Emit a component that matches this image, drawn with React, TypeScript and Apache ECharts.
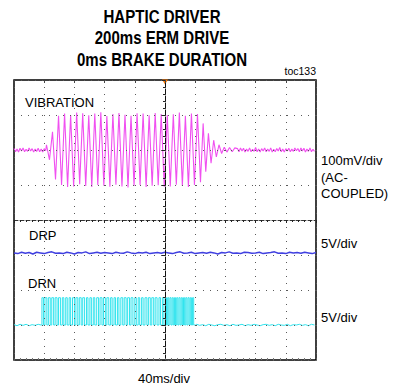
import React, { useEffect, useRef } from "react";
import * as echarts from "echarts";

// ---- data (time in ms, 40 ms/div; vibration in mV; DRP/DRN in V) ----
const titleLines = ["HAPTIC DRIVER", "200ms ERM DRIVE", "0ms BRAKE DURATION"];
const timeMin = -200;
const timeMax = 200;
const timeDiv = 40;

const vibPreStart = -200;
const vibPreStep = 2;
const vibPre = [4, -5, 3, -6, 5, -3, 6, -5, 2, -4, 6, -3, 4, -6, 3, -4, 5, -5, 3, -6, 4, -2];

const vibDriveStart = -157;
const vibDriveStep = 4;
const vibDrive = [15, -28, 52, -84, 98, -100, 104, -106, 100, -104, 107, -98, 105, -103, 99, -106, 104, -100, 108, -102, 97, -105, 103, -99, 106, -104, 101, -107, 98, -103, 105, -100, 104, -106, 99, -102, 106, -101, 103, -105, 100, -104, 102, -99, 107, -103, 98, -106, 104, -100, 103];

const vibDecayStart = 47;
const vibDecayStep = 3.5;
const vibDecay = [-92, 76, -62, 48, -38, 28, -20, 15, -10, 8, -6, 7, -5, 6];

const vibPostStart = 96;
const vibPostStep = 2;
const vibPost = [4, -5, 6, -3, 5, -6, 3, -4, 6, -5, 2, -4, 7, -5, 3, -6, 4, -3, 6, -5, 3, -4, 6, -6, 2, -5, 4, -3, 7, -5, 3, -6, 4, -3, 5, -5, 3, -4, 6, -2, 4, -5, 6, -3, 5, -6, 3, -4, 6, -5, 2, -4];

const drpStart = -200;
const drpStep = 5;
const drpValues = [0.3, 0.2, 0.4, 0.25, 0.35, 0.15, 0.4, 0.3, 0.2, 0.35, 0.45, 0.25, 0.3, 0.2, 0.4, 0.3, 0.15, 0.35, 0.3, 0.45, 0.2, 0.3, 0.4, 0.25, 0.35, 0.3, 0.2, 0.4, 0.3, 0.25, 0.45, 0.3, 0.2, 0.35, 0.3, 0.4, 0.2, 0.3, 0.35, 0.25, 0.4, 0.3, 0.2, 0.35, 0.45, 0.25, 0.3, 0.4, 0.2, 0.3, 0.35, 0.25, 0.4, 0.3, 0.15, 0.35, 0.3, 0.45, 0.25, 0.3, 0.2, 0.4, 0.35, 0.25, 0.3, 0.4, 0.2, 0.3, 0.35, 0.45, 0.25, 0.3, 0.2, 0.4, 0.3, 0.35, 0.25, 0.4, 0.3, 0.2, 0.35];

const drnPreStart = -200;
const drnPreStep = 4;
const drnPre = [0.05, -0.1, 0.1, -0.05, 0.1, -0.1, 0.05, -0.05, 0.1, 0];
const drnOn = -163;
const drnOff = 40.5;
const drnHigh = 3.9;
const drnToggles = [-161, -159, -156.5, -154.5, -152, -150, -147.5, -145.5, -143, -141, -138.5, -136, -134, -131.5, -129.5, -127, -125, -122.5, -120, -118, -115.5, -113.5, -111, -109, -106.5, -104, -102, -99.5, -97.5, -95, -93, -90.5, -88, -86, -83.5, -81.5, -79, -77, -74.5, -72, -70, -67.5, -65.5, -63, -61, -58.5, -56, -54, -51.5, -49.5, -47, -45, -42.5, -40, -38, -35.5, -33.5, -31, -29, -26.5, -24, -22, -19.5, -17.5, -15, -13, -10.5, -8, -6, -3.5, -1.5, 0.5, 2, 3.5, 5, 6.5, 8, 9.5, 11, 12.5, 14, 15.5, 17, 18.5, 20, 21.5, 23, 24.5, 26, 27.5, 29, 30.5, 32, 33.5, 35, 36.5, 38];
const drnPostStart = 42;
const drnPostStep = 4;
const drnPost = [0.1, -0.05, 0.05, -0.1, 0.1, 0, -0.1, 0.05, 0.1, -0.05, 0.05, -0.1, 0.1, -0.05, 0, 0.1, -0.1, 0.05, -0.05, 0.1, 0, -0.1, 0.05, 0.1, -0.05, 0.05, -0.1, 0.1, 0, -0.05, 0.1, -0.1, 0.05, 0, 0.1, -0.05, 0.05, -0.1, 0.1, 0];

const seg = (start: number, step: number, values: number[]) =>
  values.map((v, i) => [start + i * step, v]);

function buildVibration() {
  return [
    ...seg(vibPreStart, vibPreStep, vibPre),
    ...seg(vibDriveStart, vibDriveStep, vibDrive),
    ...seg(vibDecayStart, vibDecayStep, vibDecay),
    ...seg(vibPostStart, vibPostStep, vibPost),
  ];
}

function buildDrn() {
  const pts: number[][] = [...seg(drnPreStart, drnPreStep, drnPre)];
  let level = drnHigh;
  pts.push([drnOn, 0], [drnOn, level]);
  for (const t of drnToggles) {
    const next = level > 0 ? 0 : drnHigh;
    pts.push([t, level], [t, next]);
    level = next;
  }
  pts.push([drnOff, level], [drnOff, 0]);
  pts.push(...seg(drnPostStart, drnPostStep, drnPost));
  return pts;
}

const FONT = "'Liberation Sans', Arial, sans-serif";

export default function App() {
  const ref = useRef<HTMLDivElement>(null);
  useEffect(() => {
    document.body.style.margin = "0";
    const chart = echarts.init(ref.current!, undefined, { renderer: "svg" });
    const dot = "#5a5a5a";
    const label = (text: string, x: number, y: number, extra: any = {}) => ({
      type: "text",
      x,
      y,
      z: 100,
      style: {
        text,
        fontSize: 13,
        fontFamily: FONT,
        fill: "#000",
        align: "left",
        verticalAlign: "middle",
        textAlign: "left",
        textVerticalAlign: "middle",
        ...extra,
      },
    });
    chart.setOption({
      animation: false,
      backgroundColor: "#fff",
      grid: {
        left: 14,
        top: 80,
        width: 302,
        height: 280,
        show: true,
        borderColor: "#000",
        borderWidth: 1.5,
        backgroundColor: "transparent",
        containLabel: false,
      },
      xAxis: [
        {
          type: "value",
          min: timeMin,
          max: timeMax,
          interval: timeDiv,
          z: 5,
          axisLine: { show: true, onZero: true, onZeroAxisIndex: 0, lineStyle: { color: "#333", width: 1, type: [4, 2] } },
          axisTick: { show: true, length: 3, lineStyle: { color: "#222" } },
          minorTick: { show: true, splitNumber: 5, length: 2, lineStyle: { color: "#222" } },
          axisLabel: { show: false },
          splitLine: { show: true, lineStyle: { color: dot, width: 1, type: [1, 6] } },
        },
        {
          type: "value",
          min: timeMin,
          max: timeMax,
          interval: timeDiv,
          position: "top",
          z: 5,
          axisLine: { show: false, onZero: false },
          axisTick: { show: true, inside: true, length: 3, lineStyle: { color: "#444" } },
          axisLabel: { show: false },
          splitLine: { show: false },
        },
        {
          type: "value",
          min: timeMin,
          max: timeMax,
          interval: timeDiv,
          position: "bottom",
          z: 5,
          axisLine: { show: false, onZero: false },
          axisTick: { show: true, inside: true, length: 2, lineStyle: { color: "#555" } },
          minorTick: { show: true, splitNumber: 5, length: 2, lineStyle: { color: "#777" } },
          axisLabel: { show: false },
          splitLine: { show: false },
        },
      ],
      yAxis: [
        {
          type: "value",
          min: -4,
          max: 4,
          interval: 1,
          z: 5,
          axisLine: { show: true, onZero: true, lineStyle: { color: "#111", width: 1, type: [5, 2] } },
          axisTick: { show: true, length: 3, lineStyle: { color: "#222" } },
          minorTick: { show: true, splitNumber: 5, length: 2, lineStyle: { color: "#222" } },
          axisLabel: { show: false },
          splitLine: { show: true, lineStyle: { color: dot, width: 1, type: [1, 6] } },
        },
        { type: "value", min: -600, max: 200, show: false, splitLine: { show: false } },
        { type: "value", min: -15, max: 25, show: false, splitLine: { show: false } },
        { type: "value", min: -5, max: 35, show: false, splitLine: { show: false } },
      ],
      series: [
        {
          name: "VIBRATION",
          type: "line",
          xAxisIndex: 0,
          yAxisIndex: 1,
          data: buildVibration(),
          showSymbol: false,
          symbol: "none",
          z: 2,
          lineStyle: { color: "#f050f0", width: 1.1 },
          markPoint: {
            silent: true,
            symbol: "triangle",
            symbolSize: [6, 5],
            symbolRotate: 180,
            symbolOffset: [0, 2],
            itemStyle: { color: "#ff7a00" },
            label: { show: false },
            data: [{ coord: [0, 200] }],
          },
        },
        {
          name: "DRP",
          type: "line",
          xAxisIndex: 0,
          yAxisIndex: 2,
          data: seg(drpStart, drpStep, drpValues),
          showSymbol: false,
          symbol: "none",
          z: 2,
          lineStyle: { color: "#4040e0", width: 1.5 },
        },
        {
          name: "DRN",
          type: "line",
          xAxisIndex: 0,
          yAxisIndex: 3,
          data: buildDrn(),
          showSymbol: false,
          symbol: "none",
          z: 2,
          lineStyle: { color: "#30e4ee", width: 1 },
        },
      ],
      graphic: [
        ...titleLines.map((t, i) => ({
          type: "text",
          x: 162,
          y: [16.5, 38, 59.5][i],
          scaleX: 0.86,
          z: 100,
          style: {
            text: t,
            fontSize: 17.5,
            fontWeight: "bold",
            fontFamily: FONT,
            fill: "#000",
            align: "center",
            verticalAlign: "middle",
            textAlign: "center",
            textVerticalAlign: "middle",
          },
        })),
        label("toc133", 316, 71, { fontSize: 10.5, align: "right", textAlign: "right" }),
        label("VIBRATION", 25, 102),
        label("DRP", 29, 235.5),
        label("DRN", 28, 283),
        label("100mV/div", 321, 160.5),
        label("(AC-", 321, 177),
        label("COUPLED)", 321, 193),
        label("5V/div", 321, 243),
        label("5V/div", 321, 317),
        label("40ms/div", 164, 378, { align: "center", textAlign: "center" }),
      ],
    });
    return () => chart.dispose();
  }, []);
  return <div ref={ref} style={{ width: 402, height: 387 }} />;
}
